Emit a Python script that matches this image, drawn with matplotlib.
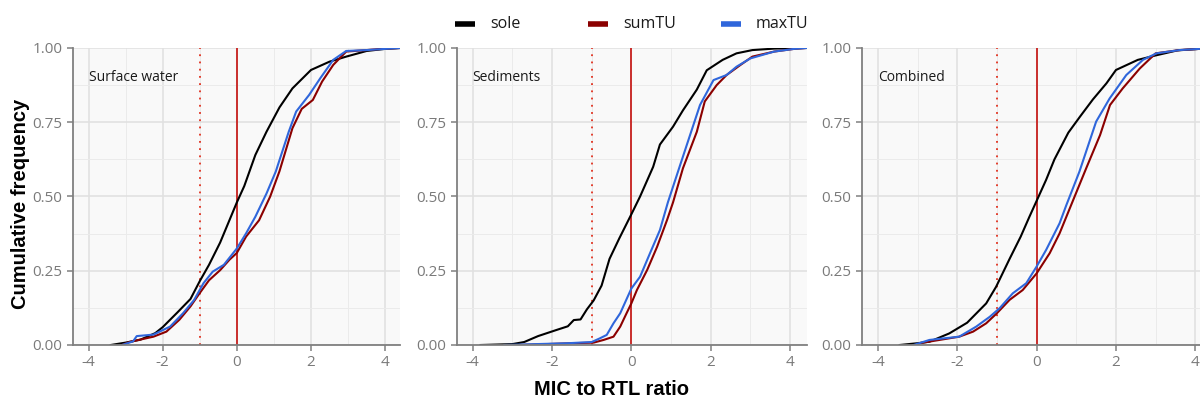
import matplotlib.pyplot as plt
from matplotlib.lines import Line2D
from matplotlib.ticker import MultipleLocator, FormatStrFormatter

plt.rcParams["axes.unicode_minus"] = False

# cumulative frequency curves read as (ratio, frequency) vertices
panels = ["Surface water", "Sediments", "Combined"]
series = ["sole", "sumTU", "maxTU"]
colors = {"sole": "#000000", "sumTU": "#8B0000", "maxTU": "#2F66DB"}

sw_sole_x = [-3.4, -3.0, -2.6, -2.2, -2.0, -1.6, -1.25, -1.0, -0.75, -0.45, -0.2, 0.0,
             0.2, 0.5, 0.8, 1.15, 1.5, 2.0, 2.5, 2.95, 3.5, 4.0, 4.4]
sw_sole_y = [0.0, 0.008, 0.018, 0.04, 0.06, 0.11, 0.155, 0.215, 0.27, 0.345, 0.42, 0.48,
             0.535, 0.64, 0.718, 0.80, 0.864, 0.926, 0.954, 0.971, 0.99, 0.997, 1.0]
sw_sum_x = [-3.1, -2.9, -2.25, -1.9, -1.55, -1.25, -1.0, -0.75, -0.45, -0.2, 0.0, 0.25,
            0.6, 0.9, 1.15, 1.5, 1.75, 2.05, 2.3, 2.6, 2.95, 3.5, 3.9, 4.4]
sw_sum_y = [0.0, 0.01, 0.028, 0.045, 0.085, 0.13, 0.175, 0.218, 0.252, 0.287, 0.31, 0.365,
            0.42, 0.50, 0.585, 0.73, 0.795, 0.825, 0.887, 0.943, 0.988, 0.993, 0.997, 1.0]
sw_max_x = [-3.1, -2.8, -2.7, -2.25, -1.8, -1.45, -1.15, -0.9, -0.65, -0.35, 0.0, 0.25,
            0.5, 0.8, 1.05, 1.4, 1.6, 1.95, 2.25, 2.6, 2.95, 3.5, 4.0, 4.4]
sw_max_y = [0.0, 0.012, 0.03, 0.035, 0.062, 0.107, 0.152, 0.208, 0.247, 0.27, 0.325, 0.376,
            0.432, 0.51, 0.584, 0.718, 0.786, 0.842, 0.898, 0.96, 0.99, 0.993, 0.997, 1.0]

sd_sole_x = [-3.8, -3.0, -2.7, -2.35, -1.9, -1.6, -1.45, -1.28, -1.12, -0.95, -0.75, -0.55,
             -0.3, 0.0, 0.22, 0.55, 0.72, 1.05, 1.3, 1.65, 1.9, 2.3, 2.65, 3.05, 3.6, 4.4]
sd_sole_y = [0.0, 0.003, 0.01, 0.03, 0.05, 0.063, 0.084, 0.086, 0.12, 0.15, 0.2, 0.29,
             0.36, 0.44, 0.50, 0.60, 0.675, 0.735, 0.79, 0.86, 0.925, 0.96, 0.982, 0.993, 0.998, 1.0]
sd_sum_x = [-2.8, -1.5, -0.95, -0.7, -0.45, -0.28, -0.12, 0.0, 0.14, 0.4, 0.65, 0.9,
            1.05, 1.3, 1.65, 1.85, 2.15, 2.4, 2.75, 3.05, 3.6, 4.1, 4.4]
sd_sum_y = [0.0, 0.006, 0.008, 0.017, 0.028, 0.062, 0.107, 0.14, 0.185, 0.253, 0.331, 0.421,
            0.48, 0.595, 0.718, 0.82, 0.875, 0.909, 0.943, 0.971, 0.988, 0.997, 1.0]
sd_max_x = [-3.2, -1.6, -1.0, -0.8, -0.62, -0.45, -0.28, 0.0, 0.22, 0.47, 0.72, 0.92,
            1.23, 1.48, 1.73, 2.07, 2.4, 2.65, 3.0, 3.6, 4.1, 4.4]
sd_max_y = [0.0, 0.006, 0.01, 0.022, 0.034, 0.073, 0.107, 0.19, 0.23, 0.309, 0.387, 0.48,
            0.606, 0.707, 0.808, 0.892, 0.909, 0.937, 0.965, 0.988, 0.997, 1.0]

cb_sole_x = [-3.45, -3.0, -2.7, -2.2, -1.75, -1.27, -1.02, -0.68, -0.4, -0.18, 0.0, 0.24,
             0.45, 0.8, 1.1, 1.42, 1.76, 2.0, 2.55, 3.0, 3.55, 4.1, 4.4]
cb_sole_y = [0.0, 0.006, 0.011, 0.039, 0.075, 0.14, 0.196, 0.29, 0.365, 0.432, 0.485, 0.556,
             0.625, 0.715, 0.77, 0.827, 0.881, 0.926, 0.96, 0.975, 0.992, 0.997, 1.0]
cb_sum_x = [-3.0, -2.95, -2.45, -1.95, -1.6, -1.27, -1.0, -0.68, -0.35, 0.0, 0.33, 0.58,
            0.87, 1.25, 1.6, 1.85, 2.17, 2.6, 3.0, 3.6, 4.1, 4.4]
cb_sum_y = [0.0, 0.006, 0.017, 0.028, 0.045, 0.073, 0.107, 0.152, 0.185, 0.241, 0.309, 0.376,
            0.471, 0.595, 0.707, 0.808, 0.864, 0.931, 0.982, 0.993, 0.997, 1.0]
cb_max_x = [-3.1, -2.7, -1.95, -1.52, -1.18, -0.93, -0.6, -0.26, 0.0, 0.24, 0.58, 0.75,
            1.08, 1.5, 1.84, 2.26, 2.68, 3.02, 3.6, 4.1, 4.4]
cb_max_y = [0.0, 0.017, 0.028, 0.062, 0.095, 0.124, 0.174, 0.208, 0.264, 0.32, 0.41, 0.471,
            0.584, 0.752, 0.83, 0.909, 0.96, 0.982, 0.993, 0.997, 1.0]

curves = {
    "Surface water": {"sole": (sw_sole_x, sw_sole_y), "sumTU": (sw_sum_x, sw_sum_y),
                      "maxTU": (sw_max_x, sw_max_y)},
    "Sediments": {"sole": (sd_sole_x, sd_sole_y), "sumTU": (sd_sum_x, sd_sum_y),
                  "maxTU": (sd_max_x, sd_max_y)},
    "Combined": {"sole": (cb_sole_x, cb_sole_y), "sumTU": (cb_sum_x, cb_sum_y),
                 "maxTU": (cb_max_x, cb_max_y)},
}

threshold_solid = 0
threshold_dotted = -1

FONT = ["Open Sans", "DejaVu Sans"]
BOLD = ["Liberation Sans", "DejaVu Sans"]
GREY = "#7a7a7a"

fig = plt.figure(figsize=(12, 4), dpi=100)

# left, bottom, width, height in figure fraction
boxes = [
    (0.0608, 0.1375, 0.2725, 0.7425),
    (0.3806, 0.1375, 0.2917, 0.7425),
    (0.7183, 0.1375, 0.2917, 0.7425),
]
xlims = [(-4.42, 4.4), (-4.40, 4.42), (-4.40, 4.42)]

for name, box, xlim in zip(panels, boxes, xlims):
    ax = fig.add_axes(box)
    ax.set_facecolor("#f9f9f9")
    ax.set_xlim(*xlim)
    ax.set_ylim(0, 1)

    ax.xaxis.set_major_locator(MultipleLocator(2))
    ax.xaxis.set_minor_locator(MultipleLocator(1))
    ax.yaxis.set_major_locator(MultipleLocator(0.25))
    ax.yaxis.set_minor_locator(MultipleLocator(0.125))
    ax.yaxis.set_major_formatter(FormatStrFormatter("%.2f"))
    ax.grid(which="major", color="#e0e0e0", linewidth=1.1, zorder=0)
    ax.grid(which="minor", color="#ebebeb", linewidth=0.7, zorder=0)
    ax.set_axisbelow(True)

    for side in ["top", "right"]:
        ax.spines[side].set_visible(False)
    for side in ["left", "bottom"]:
        ax.spines[side].set_color("#808080")
        ax.spines[side].set_linewidth(1.3)
    ax.tick_params(which="major", color="#808080", length=4, width=1.1,
                   labelcolor=GREY, labelsize=11)
    ax.tick_params(which="minor", length=0)
    for lab in ax.get_xticklabels() + ax.get_yticklabels():
        lab.set_family(FONT)

    ax.axvline(threshold_dotted, color="#e0301e", linestyle=(0, (1, 3)), linewidth=1.3, zorder=1)
    ax.axvline(threshold_solid, color="#c8201e", linewidth=1.3, zorder=1)

    for s in series:
        xs, ys = curves[name][s]
        ax.plot(xs, ys, color=colors[s], linewidth=1.5, zorder=2)

    ax.text(-4, 0.9, name, ha="left", va="center", fontsize=10, color="#1a1a1a", family=FONT)

fig.text(0.017, 0.49, "Cumulative frequency", rotation=90, ha="center", va="center",
         fontsize=14.5, fontweight="bold", family=BOLD)
fig.text(0.51, 0.027, "MIC to RTL ratio", ha="center", va="center",
         fontsize=14.5, fontweight="bold", family=BOLD)

# legend keys laid out in equal-width columns above the panels
key_y = 0.94
for i, s in enumerate(series):
    x0 = 455 + 133 * i
    fig.add_artist(Line2D([x0 / 1200, (x0 + 20) / 1200], [key_y, key_y],
                          color=colors[s], linewidth=4, solid_capstyle="butt"))
    fig.text((x0 + 35) / 1200, key_y, s, ha="left", va="center", fontsize=11.5,
             color="#1a1a1a", family=FONT)

fig.savefig("out.png", dpi=100)
